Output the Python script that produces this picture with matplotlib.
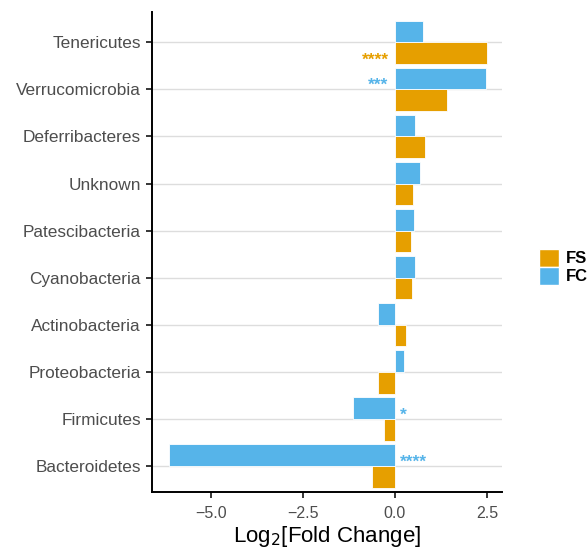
import numpy as np
import matplotlib.pyplot as plt
from matplotlib.patches import Patch

plt.rcParams['font.family'] = ['Liberation Sans', 'DejaVu Sans']

# categories, bottom to top
phyla = ["Bacteroidetes", "Firmicutes", "Proteobacteria", "Actinobacteria",
         "Cyanobacteria", "Patescibacteria", "Unknown", "Deferribacteres",
         "Verrucomicrobia", "Tenericutes"]
fs_vals = [-0.62, -0.30, -0.47, 0.30, 0.47, 0.45, 0.48, 0.82, 1.42, 2.50]
fc_vals = [-6.15, -1.15, 0.25, -0.45, 0.55, 0.52, 0.68, 0.55, 2.47, 0.77]
# significance marks: (category, series, stars)
sig_marks = [("Tenericutes", "FS", "****"), ("Verrucomicrobia", "FC", "***"),
             ("Firmicutes", "FC", "*"), ("Bacteroidetes", "FC", "****")]
xticks = [-5.0, -2.5, 0.0, 2.5]

c_fs = "#E69F00"
c_fc = "#56B4E9"

fig = plt.figure(figsize=(5.88, 5.5), dpi=100)
ax = fig.add_axes([0.2585, 0.1055, 0.5952, 0.8725])

y = np.arange(len(phyla))
h = 0.46
ax.barh(y - h / 2, fs_vals, height=h, color=c_fs, edgecolor="white", linewidth=0.6, zorder=2)
ax.barh(y + h / 2, fc_vals, height=h, color=c_fc, edgecolor="white", linewidth=0.6, zorder=2)

for i in y:
    ax.axhline(i, color="#DDDDDD", linewidth=1.0, zorder=1)

vals = {"FS": fs_vals, "FC": fc_vals}
for name, series, stars in sig_marks:
    i = phyla.index(name)
    v = vals[series][i]
    yy = i - h / 2 if series == "FS" else i + h / 2
    col = c_fs if series == "FS" else c_fc
    if v > 0:
        ax.text(-0.17, yy - 0.15, stars, color=col, ha="right", va="center",
                fontsize=12.5, fontweight="bold", zorder=3)
    else:
        ax.text(0.15, yy - 0.15, stars, color=col, ha="left", va="center",
                fontsize=12.5, fontweight="bold", zorder=3)

ax.set_yticks(y)
ax.set_yticklabels(phyla)
ax.set_xticks(xticks)
ax.set_xlim(-6.6, 2.91)
ax.set_ylim(-0.55, len(phyla) - 0.36)

for s in ["top", "right"]:
    ax.spines[s].set_visible(False)
for s in ["left", "bottom"]:
    ax.spines[s].set_linewidth(1.4)
    ax.spines[s].set_color("black")

ax.tick_params(axis="y", colors="#4D4D4D", labelsize=12.4, length=4, width=1.1, pad=4)
ax.tick_params(axis="x", colors="#4D4D4D", labelsize=11.5, length=4, width=1.1, pad=6)
ax.tick_params(axis="both", color="black")
ax.set_xlabel("Log$_2$[Fold Change]", fontsize=16, color="black", labelpad=2)

handles = [Patch(facecolor=c_fs, edgecolor="white", label="FS"),
           Patch(facecolor=c_fc, edgecolor="white", label="FC")]
leg = fig.legend(handles=handles, loc="center left", bbox_to_anchor=(0.905, 0.515),
                 frameon=False, handlelength=1.2, handleheight=1.3, labelspacing=0.0,
                 handletextpad=0.4, borderaxespad=0, prop={"weight": "bold", "size": 12})

fig.savefig("out.png", dpi=100)
